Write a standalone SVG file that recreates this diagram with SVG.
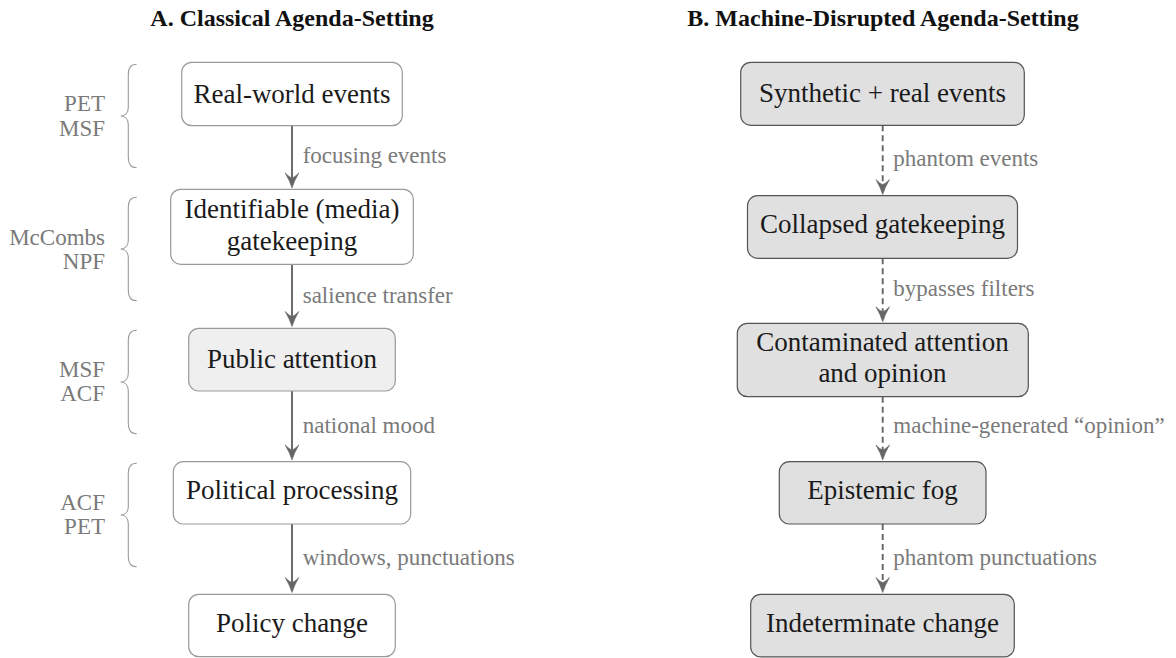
<svg xmlns="http://www.w3.org/2000/svg" width="1176" height="658" viewBox="0 0 1176 658">
  <style>
    .title { font-family: "Liberation Serif", "Times New Roman", serif; font-weight: bold; font-size: 24px; fill: #111; text-anchor: middle; }
    .node-text { font-family: "Liberation Serif", "Times New Roman", serif; font-size: 27px; fill: #1a1a1a; text-anchor: middle; }
    .edge-label { font-family: "Liberation Serif", "Times New Roman", serif; font-size: 23px; fill: #7a7a7a; }
    .brace-label { font-family: "Liberation Serif", "Times New Roman", serif; font-size: 23px; fill: #7a7a7a; text-anchor: end; }
    .box-classic { fill: #ffffff; stroke: #9a9a9a; stroke-width: 1.2; }
    .box-attention { fill: #efefef; stroke: #9a9a9a; stroke-width: 1.2; }
    .box-disrupted { fill: #e0e0e0; stroke: #555555; stroke-width: 1.2; }
    .edge { stroke: #666666; stroke-width: 1.9; fill: none; marker-end: url(#head); }
    .edge-dashed { stroke: #666666; stroke-width: 1.9; fill: none; stroke-dasharray: 6 4; marker-end: url(#head); }
    .brace { stroke: #9a9a9a; stroke-width: 1.1; fill: none; }
  </style>
  <defs>
    <marker id="head" markerUnits="userSpaceOnUse" markerWidth="24" markerHeight="24" viewBox="-12 -12 24 24" refX="0" refY="0" orient="auto" overflow="visible">
      <path d="M7,0 Q-0.5,-2.4 -8,-6.8 Q-3.6,-2.4 -3,0 Q-3.6,2.4 -8,6.8 Q-0.5,2.4 7,0 Z" fill="#666666" stroke="#666666" stroke-width="0.6" stroke-linejoin="round"/>
    </marker>
    <path id="brace-shape" class="brace" d="M16,0 C10,0 7.6,3.5 7.6,10 L7.6,43 C7.6,48.5 4.5,51.7 0,51.7 C4.5,51.7 7.6,55 7.6,60.5 L7.6,93.4 C7.6,99.9 10,103.4 16,103.4"/>
  </defs>

  <!-- column headings -->
  <text class="title" x="292" y="26">A. Classical Agenda-Setting</text>
  <text class="title" x="883" y="26">B. Machine-Disrupted Agenda-Setting</text>

  <!-- theory braces beside the classical chain -->
  <g id="braces">
    <use href="#brace-shape" x="120.7" y="64.3"/>
    <use href="#brace-shape" x="120.7" y="197.3"/>
    <use href="#brace-shape" x="120.7" y="330.3"/>
    <use href="#brace-shape" x="120.7" y="463.3"/>
    <text class="brace-label" x="105" y="111">PET</text>
    <text class="brace-label" x="105" y="136">MSF</text>
    <text class="brace-label" x="105" y="245">McCombs</text>
    <text class="brace-label" x="105" y="269">NPF</text>
    <text class="brace-label" x="105" y="377">MSF</text>
    <text class="brace-label" x="105" y="401">ACF</text>
    <text class="brace-label" x="105" y="510">ACF</text>
    <text class="brace-label" x="105" y="534">PET</text>
  </g>

  <!-- connectors -->
  <g id="connectors">
    <line class="edge" x1="292" y1="125.7" x2="292" y2="181"/>
    <line class="edge" x1="292" y1="264.3" x2="292" y2="319.5"/>
    <line class="edge" x1="292" y1="391" x2="292" y2="453"/>
    <line class="edge" x1="292" y1="524" x2="292" y2="585.5"/>
    <text class="edge-label" x="302.7" y="163.3">focusing events</text>
    <text class="edge-label" x="302.7" y="303.3">salience transfer</text>
    <text class="edge-label" x="302.7" y="433.3">national mood</text>
    <text class="edge-label" x="302.7" y="565">windows, punctuations</text>

    <line class="edge-dashed" x1="882.7" y1="125.3" x2="882.7" y2="187.5"/>
    <line class="edge-dashed" x1="882.7" y1="258.3" x2="882.7" y2="314.8"/>
    <line class="edge-dashed" x1="882.7" y1="396.7" x2="882.7" y2="453"/>
    <line class="edge-dashed" x1="882.7" y1="524" x2="882.7" y2="585.5"/>
    <text class="edge-label" x="893.3" y="165.7">phantom events</text>
    <text class="edge-label" x="893.3" y="295.7">bypasses filters</text>
    <text class="edge-label" x="893.3" y="433.3">machine-generated “opinion”</text>
    <text class="edge-label" x="893.3" y="565">phantom punctuations</text>
  </g>

  <!-- classical chain -->
  <g id="real-world-events">
    <rect class="box-classic" x="181.7" y="62.3" width="220.6" height="63.4" rx="10"/>
    <text class="node-text" x="292" y="103.3">Real-world events</text>
  </g>
  <g id="media-gatekeeping">
    <rect class="box-classic" x="170.7" y="189.3" width="242.6" height="75" rx="10"/>
    <text class="node-text" x="292" y="218.3">Identifiable (media)</text>
    <text class="node-text" x="292" y="250">gatekeeping</text>
  </g>
  <g id="public-attention">
    <rect class="box-attention" x="188.7" y="328.3" width="206.6" height="62.7" rx="10"/>
    <text class="node-text" x="292" y="368.3">Public attention</text>
  </g>
  <g id="political-processing">
    <rect class="box-classic" x="173.3" y="461.7" width="237.4" height="62.3" rx="10"/>
    <text class="node-text" x="292" y="499.3">Political processing</text>
  </g>
  <g id="policy-change">
    <rect class="box-classic" x="188.7" y="594.3" width="206.6" height="62.4" rx="10"/>
    <text class="node-text" x="292" y="631.7">Policy change</text>
  </g>

  <!-- disrupted chain -->
  <g id="synthetic-real-events">
    <rect class="box-disrupted" x="740.7" y="62.3" width="283.6" height="63" rx="10"/>
    <text class="node-text" x="882.5" y="101.7">Synthetic + real events</text>
  </g>
  <g id="collapsed-gatekeeping">
    <rect class="box-disrupted" x="747.5" y="195.7" width="270" height="62.6" rx="10"/>
    <text class="node-text" x="882.5" y="233.3">Collapsed gatekeeping</text>
  </g>
  <g id="contaminated-attention">
    <rect class="box-disrupted" x="737.3" y="323.3" width="291" height="73.4" rx="10"/>
    <text class="node-text" x="882.5" y="350.7">Contaminated attention</text>
    <text class="node-text" x="882.5" y="381.7">and opinion</text>
  </g>
  <g id="epistemic-fog">
    <rect class="box-disrupted" x="779.3" y="461.7" width="206.7" height="62.3" rx="10"/>
    <text class="node-text" x="882.5" y="499.3">Epistemic fog</text>
  </g>
  <g id="indeterminate-change">
    <rect class="box-disrupted" x="750.7" y="594.3" width="263.6" height="62.6" rx="10"/>
    <text class="node-text" x="882.5" y="631.7">Indeterminate change</text>
  </g>
</svg>
